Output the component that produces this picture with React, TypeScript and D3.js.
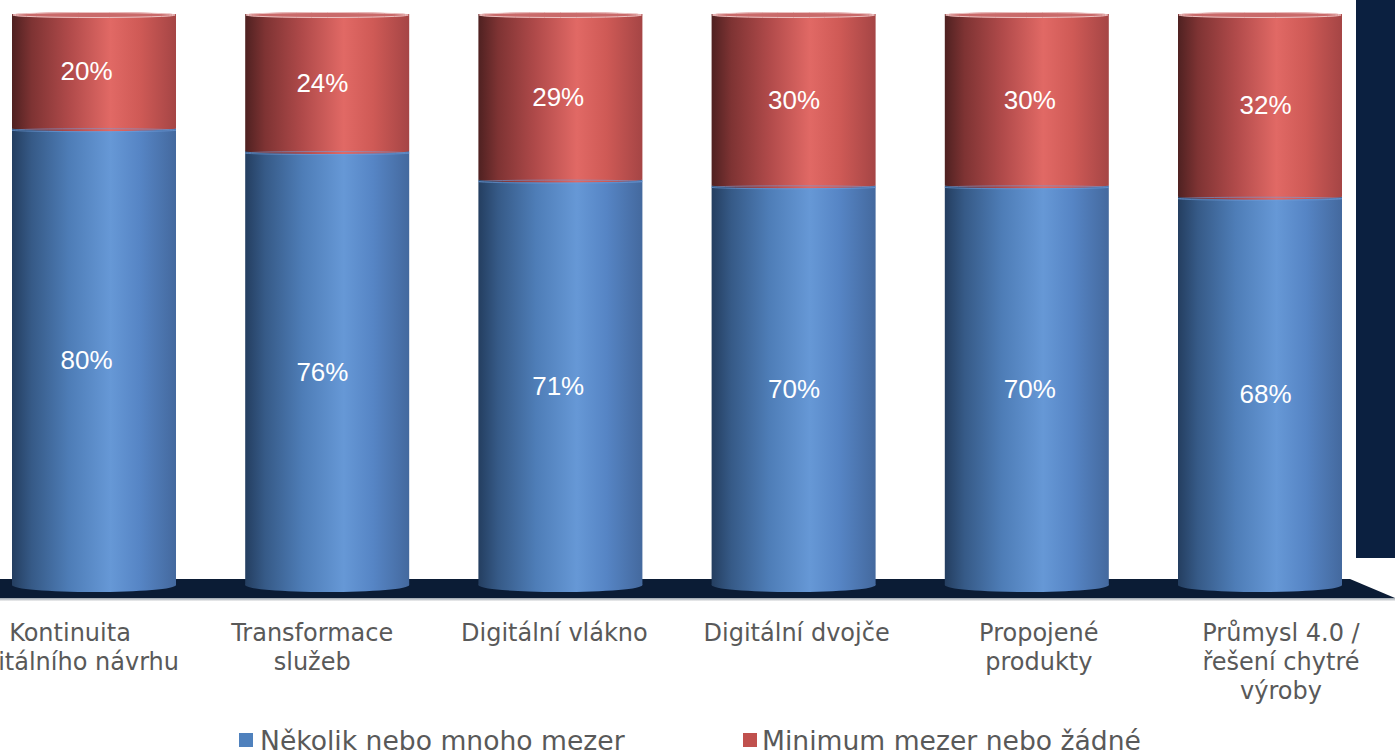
import React from "react";
import * as d3 from "d3";

const categories: string[] = [
  "Kontinuita\ndigitálního návrhu",
  "Transformace\nslužeb",
  "Digitální vlákno",
  "Digitální dvojče",
  "Propojené\nprodukty",
  "Průmysl 4.0 /\nřešení chytré\nvýroby",
];
const severalGaps: number[] = [80, 76, 71, 70, 70, 68];
const minimalGaps: number[] = [20, 24, 29, 30, 30, 32];
const seriesNames: string[] = ["Několik nebo mnoho mezer", "Minimum mezer nebo žádné"];

const W = 1395;
const H = 752;
const barW = 164;
const ryBottom = 7;
const ryTop = 3;

export default function App() {
  const x = d3.scalePoint<string>().domain(categories).range([-22.6, 1376.6]).padding(0.5);
  // slight perspective spread for value labels and category labels
  const xVal = d3.scalePoint<string>().domain(categories).range([-31.3, 1383.5]).padding(0.5);
  const xCat = d3.scalePoint<string>().domain(categories).range([-51.1, 1402.1]).padding(0.5);
  const y = d3.scaleLinear().domain([0, 100]).range([585, 14]);

  const redStops = [
    [0, "#4f2121"],
    [0.12, "#7e3333"],
    [0.35, "#b04a4a"],
    [0.6, "#e16965"],
    [0.78, "#cf5a56"],
    [1, "#a54545"],
  ];
  const blueStops = [
    [0, "#243e60"],
    [0.12, "#365a87"],
    [0.35, "#4e7db7"],
    [0.6, "#6698d6"],
    [0.78, "#5685c5"],
    [1, "#44699e"],
  ];

  const font = "Verdana, 'DejaVu Sans', sans-serif";
  const numFont = "Arial, 'Liberation Sans', sans-serif";

  return (
    <svg
      width={W}
      height={H}
      style={{ position: "fixed", left: 0, top: 0, background: "#fff" }}
    >
      <defs>
        <linearGradient id="gRed" x1="0" x2="1" y1="0" y2="0">
          {redStops.map((s, i) => (
            <stop key={i} offset={s[0] as number} stopColor={s[1] as string} />
          ))}
        </linearGradient>
        <linearGradient id="gBlue" x1="0" x2="1" y1="0" y2="0">
          {blueStops.map((s, i) => (
            <stop key={i} offset={s[0] as number} stopColor={s[1] as string} />
          ))}
        </linearGradient>
        <linearGradient id="gFloorLine" x1="0" x2="0" y1="0" y2="1">
          <stop offset={0} stopColor="#9aa3ad" />
          <stop offset={1} stopColor="#f2f2f2" />
        </linearGradient>
      </defs>

      {/* back wall */}
      <rect x={1356} y={0} width={W - 1356} height={558} fill="#0b2040" />

      {/* floor */}
      <path d={`M0,579 L1350,579 L1395,598 L0,598 Z`} fill="#0b1c35" />
      <rect x={0} y={598} width={W} height={3} fill="url(#gFloorLine)" />

      {/* cylinders */}
      {categories.map((c, i) => {
        const cx = x(c)!;
        const vx = xVal(c)!;
        const lx = xCat(c)!;
        const x0 = cx - barW / 2;
        const b = severalGaps[i];
        const r = minimalGaps[i];
        const yBase = y(0);
        const yB = y(b);
        const yT = y(b + r);
        return (
          <g key={c}>
            <rect x={x0} y={yB} width={barW} height={yBase - yB} fill="url(#gBlue)" />
            <ellipse cx={cx} cy={yBase} rx={barW / 2} ry={ryBottom} fill="url(#gBlue)" />
            <rect x={x0} y={yT} width={barW} height={yB - yT} fill="url(#gRed)" />
            <ellipse cx={cx} cy={yB} rx={barW / 2} ry={ryTop} fill="url(#gRed)" />
            <ellipse
              cx={cx}
              cy={yB + 2}
              rx={barW / 2}
              ry={1.5}
              fill="none"
              stroke="#6f9fdc"
              strokeOpacity={0.6}
              strokeWidth={1}
            />
            <ellipse cx={cx} cy={yT + 1} rx={barW / 2} ry={ryTop} fill="#c96a6a" />
            <ellipse
              cx={cx}
              cy={yT + 1}
              rx={barW / 2 - 1}
              ry={ryTop - 0.5}
              fill="none"
              stroke="#ecc2c2"
              strokeWidth={1}
            />
            <text
              x={vx}
              y={(yB + yBase + ryBottom) / 2}
              dy="0.35em"
              textAnchor="middle"
              fill="#fff"
              fontFamily={numFont}
              fontSize={26}
            >
              {b}%
            </text>
            <text
              x={vx}
              y={(yT + yB) / 2}
              dy="0.35em"
              textAnchor="middle"
              fill="#fff"
              fontFamily={numFont}
              fontSize={26}
            >
              {r}%
            </text>
            <text
              x={lx}
              y={641}
              textAnchor="middle"
              fill="#595959"
              fontFamily={font}
              fontSize={24}
            >
              {c.split("\n").map((ln, j) => (
                <tspan key={j} x={lx} dy={j === 0 ? 0 : 29}>
                  {ln}
                </tspan>
              ))}
            </text>
          </g>
        );
      })}

      {/* legend */}
      <rect x={239} y={733} width={14} height={14} fill="#4f81bd" />
      <text x={260} y={750} fill="#595959" fontFamily={font} fontSize={26.6}>
        {seriesNames[0]}
      </text>
      <rect x={743} y={733} width={14} height={14} fill="#c0504d" />
      <text x={762} y={750} fill="#595959" fontFamily={font} fontSize={26.6}>
        {seriesNames[1]}
      </text>
    </svg>
  );
}
